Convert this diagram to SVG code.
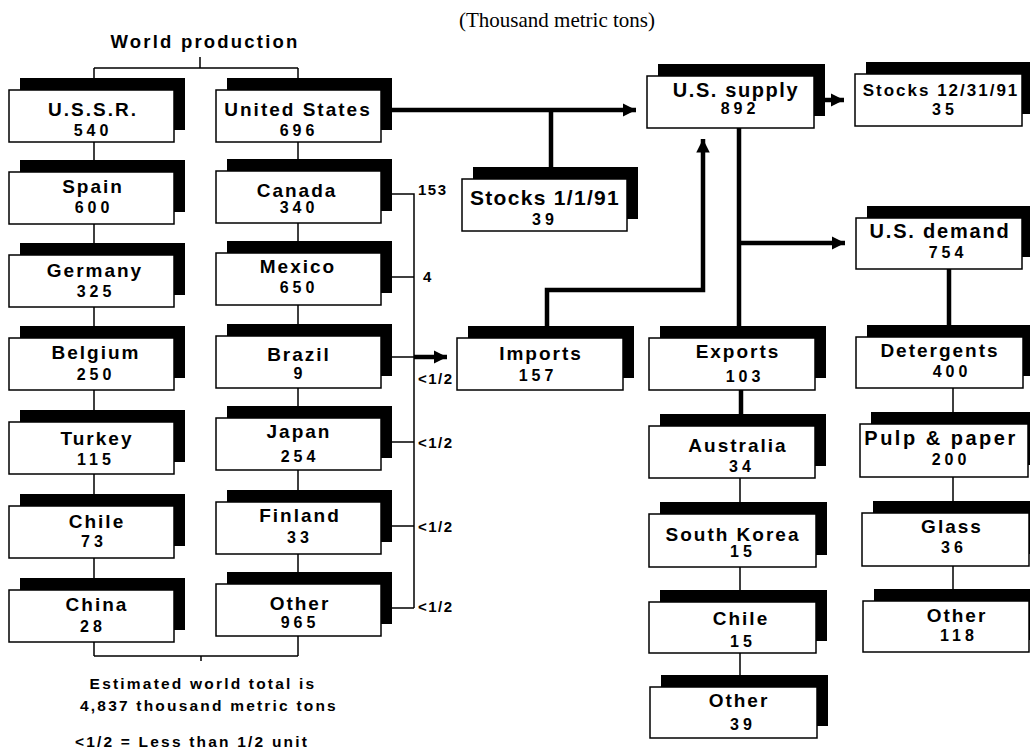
<svg xmlns="http://www.w3.org/2000/svg" width="1030" height="749" viewBox="0 0 1030 749">
<defs>
<style>
.sh{fill:#000}
.bx{fill:#fff;stroke:#000;stroke-width:1.5}
.t{font-family:"Liberation Sans",Arial,Helvetica,sans-serif;font-weight:bold;fill:#000;text-anchor:middle}
.l{font-size:19px;letter-spacing:2px}
.n{font-size:16px;letter-spacing:4px}
.thin{fill:none;stroke:#000;stroke-width:1.5}
.thick{fill:none;stroke:#000;stroke-width:4.5}
.ttl{font-family:"Liberation Serif","Times New Roman",serif;font-size:21px;fill:#000;text-anchor:middle}
</style>
<marker id="ah" viewBox="0 0 10 10" refX="10" refY="5" markerWidth="3" markerHeight="3.2" orient="auto" markerUnits="strokeWidth">
<path d="M0,0 L10,5 L0,10 Z" fill="#000"/>
</marker>
</defs>
<rect width="1030" height="749" fill="#fff"/>
<text class="ttl" x="557" y="27">(Thousand metric tons)</text>
<text class="t" x="205" y="48" style="font-size:18.5px;letter-spacing:2.2px">World production</text>

<g id="connectors">
<path class="thin" d="M200,57 V68 M94,68 H298 M94,68 V656 M298,68 V656 M94,656 H298 M201,656 V661"/>
<path class="thin" d="M380,194 H414 V608 M380,277 H414 M380,357 H414 M380,442 H414 M380,526 H414 M380,608 H414"/>
<path class="thick" d="M414,357 H447" marker-end="url(#ah)"/>
<path class="thick" d="M380,110 H636" marker-end="url(#ah)"/>
<path class="thick" d="M551,110 V170"/>
<path class="thick" d="M547,328 V290 H703 V139" marker-end="url(#ah)"/>
<path class="thick" d="M814,100 H844" marker-end="url(#ah)"/>
<path class="thick" d="M739,128 V328"/>
<path class="thick" d="M739,243 H845" marker-end="url(#ah)"/>
<path class="thick" d="M949,269 V327"/>
<path class="thick" d="M741,390 V416"/>
<path class="thin" d="M740,478 V687 M953,388 V601"/>
</g>

<g id="n-ussr"><rect class="sh" x="20" y="78" width="165" height="52"/><rect class="bx" x="9" y="90" width="165" height="52"/><text class="t l" x="93" y="116">U.S.S.R.</text><text class="t n" x="93" y="136">540</text></g>
<g id="n-spain"><rect class="sh" x="20" y="160" width="165" height="52"/><rect class="bx" x="9" y="172" width="165" height="52"/><text class="t l" x="93" y="193">Spain</text><text class="t n" x="94" y="213">600</text></g>
<g id="n-germany"><rect class="sh" x="20" y="243" width="165" height="52"/><rect class="bx" x="9" y="255" width="165" height="52"/><text class="t l" x="95" y="277">Germany</text><text class="t n" x="96" y="297">325</text></g>
<g id="n-belgium"><rect class="sh" x="20" y="326" width="165" height="52"/><rect class="bx" x="9" y="338" width="165" height="52"/><text class="t l" x="96" y="359">Belgium</text><text class="t n" x="96" y="380">250</text></g>
<g id="n-turkey"><rect class="sh" x="20" y="410" width="165" height="52"/><rect class="bx" x="9" y="422" width="165" height="52"/><text class="t l" x="97" y="445">Turkey</text><text class="t n" x="96" y="465">115</text></g>
<g id="n-chile"><rect class="sh" x="20" y="494" width="165" height="52"/><rect class="bx" x="9" y="506" width="165" height="52"/><text class="t l" x="97" y="528">Chile</text><text class="t n" x="94" y="547">73</text></g>
<g id="n-china"><rect class="sh" x="20" y="578" width="165" height="52"/><rect class="bx" x="9" y="590" width="165" height="52"/><text class="t l" x="97" y="611">China</text><text class="t n" x="93" y="632">28</text></g>

<g id="n-us"><rect class="sh" x="227" y="78" width="165" height="52"/><rect class="bx" x="216" y="90" width="165" height="52"/><text class="t l" x="298" y="116">United States</text><text class="t n" x="299" y="136">696</text></g>
<g id="n-canada"><rect class="sh" x="227" y="159" width="165" height="52"/><rect class="bx" x="216" y="171" width="165" height="52"/><text class="t l" x="297" y="197">Canada</text><text class="t n" x="299" y="213">340</text></g>
<g id="n-mexico"><rect class="sh" x="227" y="241" width="165" height="52"/><rect class="bx" x="216" y="253" width="165" height="52"/><text class="t l" x="298" y="273">Mexico</text><text class="t n" x="299" y="293">650</text></g>
<g id="n-brazil"><rect class="sh" x="227" y="324" width="165" height="52"/><rect class="bx" x="216" y="336" width="165" height="52"/><text class="t l" x="299" y="361">Brazil</text><text class="t n" x="300" y="379">9</text></g>
<g id="n-japan"><rect class="sh" x="227" y="406" width="165" height="52"/><rect class="bx" x="216" y="418" width="165" height="52"/><text class="t l" x="299" y="438">Japan</text><text class="t n" x="300" y="462">254</text></g>
<g id="n-finland"><rect class="sh" x="227" y="490" width="165" height="52"/><rect class="bx" x="216" y="502" width="165" height="52"/><text class="t l" x="300" y="522">Finland</text><text class="t n" x="300" y="543">33</text></g>
<g id="n-other-prod"><rect class="sh" x="227" y="572" width="165" height="52"/><rect class="bx" x="216" y="584" width="165" height="52"/><text class="t l" x="300" y="610">Other</text><text class="t n" x="300" y="628">965</text></g>

<g id="n-stocks-start"><rect class="sh" x="473" y="167" width="165" height="52"/><rect class="bx" x="462" y="179" width="165" height="52"/><text class="t" x="545" y="205" style="font-size:21px;letter-spacing:1.3px">Stocks 1/1/91</text><text class="t n" x="545" y="225">39</text></g>
<g id="n-supply"><rect class="sh" x="658" y="64" width="167" height="52"/><rect class="bx" x="647" y="76" width="167" height="52"/><text class="t" x="736" y="97" style="font-size:20px;letter-spacing:1.6px">U.S. supply</text><text class="t n" x="740" y="114">892</text></g>
<g id="n-stocks-end"><rect class="sh" x="866" y="62" width="167" height="52"/><rect class="bx" x="855" y="74" width="167" height="52"/><text class="t" x="941" y="96" style="font-size:17px;letter-spacing:2px">Stocks 12/31/91</text><text class="t n" x="945" y="115">35</text></g>
<g id="n-demand"><rect class="sh" x="867" y="206" width="166" height="51"/><rect class="bx" x="856" y="218" width="166" height="51"/><text class="t" x="940" y="238" style="font-size:20px;letter-spacing:1.8px">U.S. demand</text><text class="t n" x="948" y="258">754</text></g>
<g id="n-imports"><rect class="sh" x="468" y="326" width="166" height="52"/><rect class="bx" x="457" y="338" width="166" height="52"/><text class="t l" x="541" y="360">Imports</text><text class="t n" x="538" y="381">157</text></g>
<g id="n-exports"><rect class="sh" x="660" y="326" width="166" height="52"/><rect class="bx" x="649" y="338" width="166" height="52"/><text class="t l" x="738" y="358">Exports</text><text class="t n" x="745" y="382">103</text></g>
<g id="n-australia"><rect class="sh" x="660" y="414" width="166" height="52"/><rect class="bx" x="649" y="426" width="166" height="52"/><text class="t l" x="738" y="452">Australia</text><text class="t n" x="742" y="472">34</text></g>
<g id="n-skorea"><rect class="sh" x="660" y="502" width="167" height="53"/><rect class="bx" x="649" y="514" width="167" height="53"/><text class="t l" x="733" y="541">South Korea</text><text class="t n" x="743" y="557">15</text></g>
<g id="n-chile-exp"><rect class="sh" x="660" y="590" width="167" height="51"/><rect class="bx" x="649" y="602" width="167" height="51"/><text class="t l" x="741" y="625">Chile</text><text class="t n" x="743" y="647">15</text></g>
<g id="n-other-exp"><rect class="sh" x="661" y="675" width="167" height="51"/><rect class="bx" x="650" y="687" width="167" height="51"/><text class="t l" x="739" y="707">Other</text><text class="t n" x="743" y="730">39</text></g>

<g id="n-detergents"><rect class="sh" x="867" y="325" width="167" height="51"/><rect class="bx" x="856" y="337" width="167" height="51"/><text class="t l" x="940" y="357">Detergents</text><text class="t n" x="952" y="377">400</text></g>
<g id="n-pulp"><rect class="sh" x="871" y="412" width="168" height="53"/><rect class="bx" x="860" y="424" width="168" height="53"/><text class="t" x="941" y="445" style="font-size:20px;letter-spacing:2.5px">Pulp &amp; paper</text><text class="t n" x="951" y="465">200</text></g>
<g id="n-glass"><rect class="sh" x="873" y="501" width="167" height="53"/><rect class="bx" x="862" y="513" width="167" height="53"/><text class="t l" x="952" y="533">Glass</text><text class="t n" x="954" y="553">36</text></g>
<g id="n-other-dem"><rect class="sh" x="874" y="589" width="166" height="51"/><rect class="bx" x="863" y="601" width="166" height="51"/><text class="t l" x="957" y="622">Other</text><text class="t n" x="959" y="641">118</text></g>

<g id="import-labels" class="t" style="font-size:15px;letter-spacing:1.5px;text-anchor:start">
<text x="418" y="195">153</text>
<text x="423" y="282">4</text>
<text x="418" y="384">&lt;1/2</text>
<text x="418" y="448">&lt;1/2</text>
<text x="418" y="532">&lt;1/2</text>
<text x="418" y="612">&lt;1/2</text>
</g>

<g id="notes" class="t" style="font-size:15.5px;letter-spacing:2.2px">
<text x="203" y="689">Estimated world total is</text>
<text x="209" y="711">4,837 thousand metric tons</text>
<text x="192" y="747">&lt;1/2 = Less than 1/2 unit</text>
</g>
</svg>
